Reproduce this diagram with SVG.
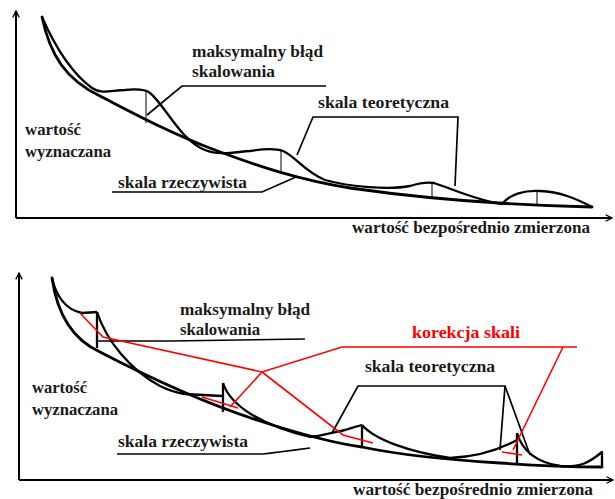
<svg xmlns="http://www.w3.org/2000/svg" width="615" height="499" viewBox="0 0 615 499">
<style>
  .t{font-family:"Liberation Serif","DejaVu Serif","Times New Roman",serif;font-weight:bold;font-size:16px;fill:#1a1a1a}
  .tr{font-family:"Liberation Serif","DejaVu Serif","Times New Roman",serif;font-weight:bold;font-size:16px;fill:#ff0000}
  .ax{stroke:#000;stroke-width:2;fill:none}
  .cv{stroke:#000;stroke-width:2.8;fill:none;stroke-linejoin:round;stroke-linecap:round}
  .th{stroke:#000;stroke-width:2.3;fill:none;stroke-linejoin:round}
  .ld{stroke:#000;stroke-width:1.7;fill:none}
  .er{stroke:#000;stroke-width:1;fill:none}
  .rd{stroke:#ff0000;stroke-width:1.6;fill:none}
</style>
<defs>
  <marker id="arr" viewBox="0 0 10 10" refX="9" refY="5" markerWidth="8" markerHeight="8" markerUnits="userSpaceOnUse" orient="auto">
    <path d="M1,1 L9,5 L1,9" fill="none" stroke="#000" stroke-width="1.6"/>
  </marker>
</defs>
<rect width="615" height="499" fill="#fff"/>

<g id="top-chart">
  <g id="top-axes">
    <line class="ax" x1="16" y1="218" x2="16" y2="11" marker-end="url(#arr)"/>
    <line class="ax" x1="16" y1="218" x2="612" y2="218" marker-end="url(#arr)"/>
  </g>
  <g id="top-curves">
    <path class="cv" d="M42,17 C50,55 66,80 100,96 C135,114 170,133 215,150 C260,167 300,180 350,188 C420,198 500,205 592,207"/>
    <path class="th" d="M42,17 C53,42 70,72 92,88 C102,95 112,90 125,90 C135,89 145,89 150,93 C165,105 180,140 205,150 C220,156 235,152 250,151 C262,149 275,148 283,151 C295,156 305,172 325,180 C350,187 390,190 410,186 C420,183 428,182 434,183 C450,188 475,200 502,204 C510,194 525,190 540,191 C560,192 575,198 592,207"/>
    <line class="er" x1="146" y1="92" x2="146" y2="123"/>
    <line class="er" x1="281" y1="150" x2="281" y2="172"/>
    <line class="er" x1="432" y1="183" x2="432" y2="199"/>
    <line class="er" x1="537" y1="192" x2="537" y2="205"/>
  </g>
  <g id="top-connectors">
    <polyline class="ld" points="147,115 182,86 326,86"/>
    <polyline class="ld" points="297,155 313,117 458,117 455,186"/>
    <polyline class="ld" points="112,192 262,192 296,177"/>
  </g>
  <g id="top-labels">
    <text class="t" x="192" y="57" textLength="131" lengthAdjust="spacingAndGlyphs">maksymalny błąd</text>
    <text class="t" x="192" y="77" textLength="83" lengthAdjust="spacingAndGlyphs">skalowania</text>
    <text class="t" x="318" y="108" textLength="131" lengthAdjust="spacingAndGlyphs">skala teoretyczna</text>
    <text class="t" x="118" y="188" textLength="129" lengthAdjust="spacingAndGlyphs">skala rzeczywista</text>
    <text class="t" x="25" y="135" textLength="56" lengthAdjust="spacingAndGlyphs">wartość</text>
    <text class="t" x="25" y="157" textLength="86" lengthAdjust="spacingAndGlyphs">wyznaczana</text>
    <text class="t" x="352" y="233" textLength="238" lengthAdjust="spacingAndGlyphs">wartość bezpośrednio zmierzona</text>
  </g>
</g>

<g id="bottom-chart">
  <g id="bottom-axes">
    <line class="ax" x1="19" y1="480" x2="19" y2="273" marker-end="url(#arr)"/>
    <line class="ax" x1="19" y1="480" x2="613" y2="480" marker-end="url(#arr)"/>
  </g>
  <g id="bottom-curves">
    <path class="cv" d="M52,278 C58,320 78,342 100,352 C150,378 210,405 260,421 C300,434 340,444 362,447 C400,455 450,460 500,463 C540,466 570,467 602,467"/>
    <path class="th" d="M52,278 C56,296 66,310 82,313 L97,312"/>
    <line class="th" x1="97" y1="312" x2="97" y2="348"/>
    <path class="th" d="M97,312 C106,340 130,370 160,386 C170,391 178,393 185,394 L222,396"/>
    <line class="th" x1="223" y1="383" x2="223" y2="412"/>
    <path class="th" d="M223,383 C230,405 260,425 310,437 C320,436 335,432 345,430 C352,428 358,426 362,425"/>
    <line class="th" x1="362" y1="425" x2="362" y2="447"/>
    <path class="th" d="M362,425 C375,440 410,452 450,458 C475,457 495,452 517,440"/>
    <line class="th" x1="517" y1="433" x2="517" y2="463"/>
    <path class="th" d="M517,433 C522,450 535,462 560,466 C580,468 590,462 602,452 L602,467"/>
  </g>
  <g id="bottom-connectors">
    <polyline class="ld" points="97,341 170,341 305,339"/>
    <polyline class="ld" points="332,433 358,386 505,386 500,450"/>
    <line class="ld" x1="505" y1="386" x2="530" y2="455"/>
    <path class="ld" d="M117,454 L263,454 C280,452 295,450 310,448"/>
  </g>
  <g id="correction-connectors">
    <polyline class="rd" points="80,313 103,337 262,372 342,347 577,347"/>
    <line class="rd" x1="202" y1="397" x2="238" y2="408"/>
    <line class="rd" x1="262" y1="372" x2="230" y2="407"/>
    <polyline class="rd" points="262,372 343,435 373,443"/>
    <line class="rd" x1="563" y1="347" x2="513" y2="450"/>
    <line class="rd" x1="502" y1="452" x2="522" y2="455"/>
  </g>
  <g id="bottom-labels">
    <text class="t" x="180" y="315" textLength="130" lengthAdjust="spacingAndGlyphs">maksymalny błąd</text>
    <text class="t" x="180" y="335" textLength="80" lengthAdjust="spacingAndGlyphs">skalowania</text>
    <text class="tr" x="412" y="338" textLength="108" lengthAdjust="spacingAndGlyphs">korekcja skali</text>
    <text class="t" x="365" y="372" textLength="130" lengthAdjust="spacingAndGlyphs">skala teoretyczna</text>
    <text class="t" x="118" y="447" textLength="130" lengthAdjust="spacingAndGlyphs">skala rzeczywista</text>
    <text class="t" x="32" y="393" textLength="55" lengthAdjust="spacingAndGlyphs">wartość</text>
    <text class="t" x="32" y="415" textLength="86" lengthAdjust="spacingAndGlyphs">wyznaczana</text>
    <text class="t" x="353" y="495" textLength="240" lengthAdjust="spacingAndGlyphs">wartość bezpośrednio zmierzona</text>
  </g>
</g>
</svg>
